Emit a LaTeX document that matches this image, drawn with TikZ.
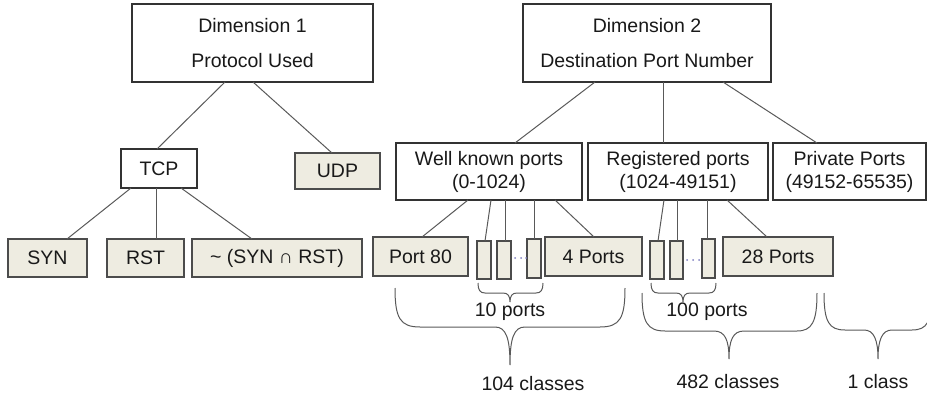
\documentclass[tikz,border=0pt]{standalone}
\usepackage{fontspec}
\setmainfont{Liberation Sans}
\begin{document}
\begin{tikzpicture}[x=1pt,y=-1pt,
  every node/.style={inner sep=0pt, outer sep=0pt, text=black!90},
  txt/.style={font=\fontsize{19.5}{23}\selectfont},
  wbox/.style={draw=black!80, line width=1.3pt, fill=white, txt, align=center},
  bbox/.style={draw=black!70, line width=1.3pt, fill=beige, txt, align=center},
  conn/.style={draw=black!65, line width=1pt},
  brc/.style={draw=black!65, line width=1pt},
  dimtxt/.style={font=\fontsize{19.5}{35}\selectfont}
]
\definecolor{beige}{HTML}{EEECE1}
\definecolor{dotc}{HTML}{7F7FC0}
\useasboundingbox (0,0) rectangle (927,402);
\clip (0,0) rectangle (927,402);

% top boxes
\node[wbox, dimtxt, minimum width=241pt, minimum height=78pt] (d1) at (252.5,43) {Dimension 1\\Protocol Used};
\node[wbox, dimtxt, minimum width=248pt, minimum height=78pt] (d2) at (647,43) {Dimension 2\\Destination Port Number};

% dimension 1 subtree
\node[wbox, minimum width=76pt, minimum height=39pt] (tcp) at (159,168.5) {TCP};
\node[bbox, minimum width=85pt, minimum height=36pt] (udp) at (337.5,171) {UDP};
\node[bbox, minimum width=79pt, minimum height=38pt] (syn) at (47.5,258) {SYN};
\node[bbox, minimum width=77pt, minimum height=38pt] (rst) at (145.5,258) {RST};
\node[bbox, minimum width=170pt, minimum height=38pt] (nsr) at (277,258) {\textasciitilde\ (SYN ∩ RST)};

% dimension 2 subtree
\node[wbox, minimum width=186pt, minimum height=57pt] (wk) at (489,171.5) {Well known ports\\(0-1024)};
\node[wbox, minimum width=180pt, minimum height=57pt] (reg) at (678,171.5) {Registered ports\\(1024-49151)};
\node[wbox, minimum width=153pt, minimum height=57pt] (priv) at (849.5,171.5) {Private Ports\\(49152-65535)};

\node[bbox, minimum width=95pt, minimum height=39pt] (p80) at (420.5,256.5) {Port 80};
\node[bbox, minimum width=14pt, minimum height=38pt] (s1) at (484,260) {};
\node[bbox, minimum width=14pt, minimum height=38pt] (s2) at (504,260) {};
\node[bbox, minimum width=14pt, minimum height=39pt] (s3) at (534,258.5) {};
\node[bbox, minimum width=97pt, minimum height=39pt] (p4) at (593.5,256.5) {4 Ports};

\node[bbox, minimum width=14pt, minimum height=38pt] (r1) at (657,260) {};
\node[bbox, minimum width=13pt, minimum height=38pt] (r2) at (676.5,260) {};
\node[bbox, minimum width=13pt, minimum height=39pt] (r3) at (708.5,258.5) {};
\node[bbox, minimum width=110pt, minimum height=39pt] (p28) at (778,256.5) {28 Ports};

% connectors
\draw[conn] ([xshift=-27.5pt]d1.south) -- ([xshift=-2pt]tcp.north);
\draw[conn] ([xshift=0.5pt]d1.south) -- ([xshift=-5.5pt]udp.north);
\draw[conn] ([xshift=-28pt]tcp.south) -- ([xshift=19.5pt]syn.north);
\draw[conn] ([xshift=-3pt]tcp.south) -- ([xshift=10.5pt]rst.north);
\draw[conn] ([xshift=22pt]tcp.south) -- ([xshift=-25pt]nsr.north);

\draw[conn] ([xshift=-52pt]d2.south) -- ([xshift=26pt]wk.north);
\draw[conn] ([xshift=16pt]d2.south) -- ([xshift=-15pt]reg.north);
\draw[conn] ([xshift=76pt]d2.south) -- ([xshift=-32.5pt]priv.north);

\draw[conn] ([xshift=-21pt]wk.south) -- ([xshift=1.5pt]p80.north);
\draw[conn] ([xshift=2pt]wk.south) -- ([xshift=1pt]s1.north);
\draw[conn] ([xshift=16pt]wk.south) -- ([xshift=1pt]s2.north);
\draw[conn] ([xshift=45pt]wk.south) -- (s3.north);
\draw[conn] ([xshift=66pt]wk.south) -- ([xshift=0.5pt]p4.north);

\draw[conn] ([xshift=-14pt]reg.south) -- ([xshift=1pt]r1.north);
\draw[conn] ([xshift=-1pt]reg.south) -- ([xshift=0.5pt]r2.north);
\draw[conn] ([xshift=29pt]reg.south) -- ([xshift=-1.5pt]r3.north);
\draw[conn] ([xshift=49pt]reg.south) -- ([xshift=-11pt]p28.north);

% dots between small boxes
\foreach \x in {515,521,526} \fill[dotc] (\x,258) circle (1pt);
\foreach \x in {687,693,699} \fill[dotc] (\x,260) circle (1pt);

% braces
\draw[brc] (478,283) .. controls (478,290) and (480,293) .. (485,293) -- (503,293) .. controls (508,293) and (510,296) .. (510,302) .. controls (510,296) and (512,293) .. (517,293) -- (536,293) .. controls (541,293) and (543,290) .. (543,283);
\draw[brc] (651,283) .. controls (651,290) and (653,293) .. (658,293) -- (676,293) .. controls (681,293) and (683,296) .. (683,302) .. controls (683,296) and (685,293) .. (690,293) -- (709,293) .. controls (714,293) and (716,290) .. (716,283);
\draw[brc] (395,288) .. controls (395,318) and (400,327) .. (420,327) -- (495,327) .. controls (506,327) and (510,338) .. (510,365) .. controls (510,338) and (514,327) .. (525,327) -- (600,327) .. controls (620,327) and (625,318) .. (625,288);
\draw[brc] (642,293) .. controls (642,322) and (647,331) .. (665,331) -- (714,331) .. controls (725,331) and (729,340) .. (729,359) .. controls (729,340) and (733,331) .. (744,331) -- (797,331) .. controls (812,331) and (817,322) .. (817,293);
\draw[brc] (824,293) .. controls (824,322) and (829,330) .. (845,330) -- (864,330) .. controls (874,330) and (878,340) .. (878,359) .. controls (878,340) and (882,330) .. (892,330) -- (912,330) .. controls (927,330) and (932,322) .. (932,293);

% brace labels
\node[txt] (l10) at (510,312) {10 ports};
\node[txt] (l100) at (707,312) {100 ports};
\node[txt] (l104) at (533,384) {104 classes};
\node[txt] (l482) at (728,382) {482 classes};
\node[txt] (l1) at (878,382) {1 class};
\end{tikzpicture}
\end{document}
